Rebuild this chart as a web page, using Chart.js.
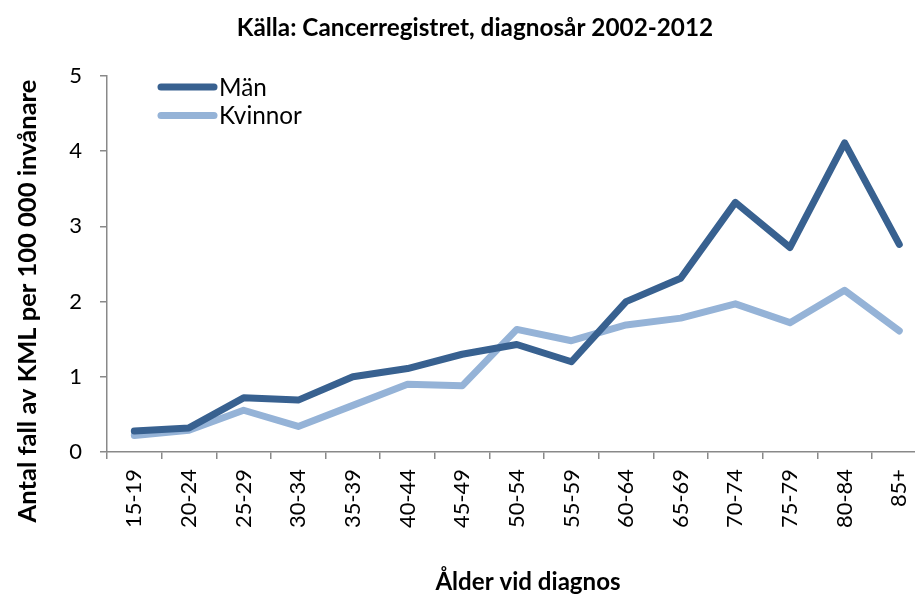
<!DOCTYPE html>
<html>
<head>
<meta charset="utf-8">
<script src="https://cdn.jsdelivr.net/npm/chart.js@4/dist/chart.umd.min.js"></script>
<style>
  html, body { margin: 0; padding: 0; background: #fff; overflow: hidden; width: 915px; height: 597px; }
  canvas { display: block; }
</style>
</head>
<body>
<canvas id="c" width="950" height="597"></canvas>
<script>
const categories = ['15-19','20-24','25-29','30-34','35-39','40-44','45-49','50-54','55-59','60-64','65-69','70-74','75-79','80-84','85+'];
const manValues = [0.28, 0.32, 0.72, 0.69, 1.00, 1.11, 1.30, 1.43, 1.20, 2.00, 2.31, 3.32, 2.72, 4.11, 2.76];
const kvinnorValues = [0.22, 0.29, 0.555, 0.34, 0.62, 0.90, 0.88, 1.63, 1.48, 1.69, 1.78, 1.97, 1.72, 2.15, 1.61];
const yTickValues = [0, 1, 2, 3, 4, 5];
const seriesNames = ['Män', 'Kvinnor'];
const titleText = 'Källa: Cancerregistret, diagnosår 2002-2012';
const yTitleText = 'Antal fall av KML per 100 000 invånare';
const xTitleText = 'Ålder vid diagnos';

const FAMILY = 'Lato';
const mctx = document.createElement('canvas').getContext('2d');
function fitSize(text, weight, target) {
  mctx.font = weight + ' 100px ' + FAMILY;
  const w = mctx.measureText(text).width;
  return Math.round(100 * target / w * 10) / 10;
}
const titleSize = fitSize(titleText, 'bold', 476);
const yTitleSize = fitSize(yTitleText, 'bold', 443);
const xTitleSize = fitSize(xTitleText, 'bold', 185);
const xTickSize = fitSize('15-19', 'normal', 59);
const legendSize = fitSize('Kvinnor', 'normal', 83);

const MAN_COLOR = '#386190';
const KV_COLOR = '#95B3D7';
const AXIS_COLOR = '#898989';

const overlay = {
  id: 'overlay',
  afterDraw(chart) {
    const ctx = chart.ctx;
    ctx.save();
    ctx.fillStyle = '#000';
    ctx.textAlign = 'center';
    ctx.textBaseline = 'middle';
    // main title
    ctx.font = 'bold ' + titleSize + 'px ' + FAMILY;
    ctx.fillText(titleText, 475, 28);
    // axis titles
    ctx.font = 'bold ' + xTitleSize + 'px ' + FAMILY;
    ctx.fillText(xTitleText, 528, 582);
    ctx.save();
    ctx.translate(28, 301);
    ctx.rotate(-Math.PI / 2);
    ctx.font = 'bold ' + yTitleSize + 'px ' + FAMILY;
    ctx.fillText(yTitleText, 0, 0);
    ctx.restore();
    // legend
    const colors = [MAN_COLOR, KV_COLOR];
    const ys = [87, 115.5];
    ctx.lineCap = 'round';
    ctx.lineWidth = 7;
    ctx.font = legendSize + 'px ' + FAMILY;
    ctx.textAlign = 'left';
    seriesNames.forEach((n, i) => {
      ctx.strokeStyle = colors[i];
      ctx.beginPath();
      ctx.moveTo(161, ys[i]);
      ctx.lineTo(214, ys[i]);
      ctx.stroke();
      ctx.fillStyle = '#000';
      ctx.fillText(n, 219, ys[i] + 1);
    });
    ctx.restore();
  }
};

new Chart(document.getElementById('c'), {
  type: 'line',
  data: {
    labels: categories,
    datasets: [
      { label: seriesNames[0], data: manValues, borderColor: MAN_COLOR, backgroundColor: MAN_COLOR,
        borderWidth: 7, pointRadius: 0, tension: 0, borderCapStyle: 'round', borderJoinStyle: 'round' },
      { label: seriesNames[1], data: kvinnorValues, borderColor: KV_COLOR, backgroundColor: KV_COLOR,
        borderWidth: 7, pointRadius: 0, tension: 0, borderCapStyle: 'round', borderJoinStyle: 'round' }
    ]
  },
  options: {
    responsive: false,
    animation: false,
    events: [],
    layout: { padding: { top: 76, right: 23.4, bottom: 0, left: 0 } },
    plugins: {
      legend: { display: false },
      tooltip: { enabled: false },
      title: { display: false }
    },
    scales: {
      x: {
        offset: true,
        grid: { offset: true, drawOnChartArea: false, drawTicks: true, tickLength: 7, color: AXIS_COLOR, lineWidth: 1.5 },
        border: { display: true, color: AXIS_COLOR, width: 1.5 },
        ticks: { color: '#000', font: { family: FAMILY, size: xTickSize }, minRotation: 90, maxRotation: 90, autoSkip: false, padding: 10 },
        afterFit(s) { s.height = 597 - 452; }
      },
      y: {
        min: 0, max: 5,
        afterBuildTicks(s) { s.ticks = yTickValues.map(v => ({ value: v })); },
        grid: { drawOnChartArea: false, drawTicks: true, tickLength: 7, color: AXIS_COLOR, lineWidth: 1.5 },
        border: { display: true, color: AXIS_COLOR, width: 1.5 },
        ticks: { color: '#000', font: { family: FAMILY, size: 22 }, padding: 18 },
        afterFit(s) { s.width = 107; }
      }
    }
  },
  plugins: [overlay]
});
</script>
</body>
</html>
